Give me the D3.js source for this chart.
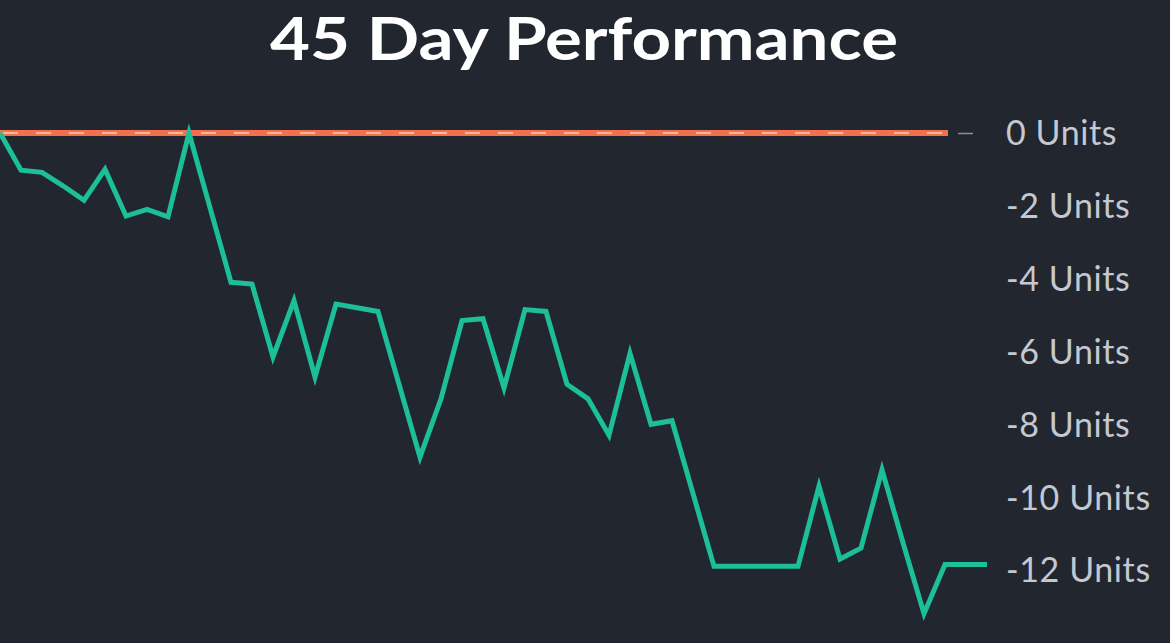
<!DOCTYPE html>
<html>
<head>
<meta charset="utf-8">
<script src="https://cdn.jsdelivr.net/npm/d3@7"></script>
<style>
  html, body { margin: 0; padding: 0; background: #22262f; }
  svg { display: block; }
</style>
</head>
<body>
<svg id="chart" width="1170" height="643"></svg>
<script>
const title = "45 Day Performance";
const days = d3.range(0, 48);
const units = [
  0, -1.02, -1.08, -1.45, -1.85, -1.0, -2.28, -2.1, -2.3, 0,
  -2.05, -4.1, -4.15, -6.15, -4.6, -6.7, -4.7, -4.8, -4.9, -6.9,
  -8.9, -7.3, -5.15, -5.1, -7.0, -4.85, -4.9, -6.9, -7.3, -8.3,
  -6.05, -8.0, -7.9, -9.9, -11.9, -11.9, -11.9, -11.9, -11.9, -9.7,
  -11.7, -11.4, -9.25, -11.25, -13.2, -11.85, -11.85, -11.85
];
const tickValues = [0, -2, -4, -6, -8, -10, -12];
const tickLabels = ["0 Units", "-2 Units", "-4 Units", "-6 Units", "-8 Units", "-10 Units", "-12 Units"];
const baseline = 0;

const svg = d3.select("#chart");

const x = d3.scaleLinear().domain([0, days.length - 1]).range([0, 987]);
const y = d3.scaleLinear().domain([0, -12]).range([133, 570]);

svg.append("text")
  .attr("x", 584).attr("y", 60)
  .attr("text-anchor", "middle")
  .attr("fill", "#ffffff")
  .attr("font-family", "Lato, 'Open Sans', sans-serif")
  .attr("font-weight", 700)
  .attr("font-size", 60)
  .attr("textLength", 628)
  .attr("lengthAdjust", "spacingAndGlyphs")
  .text(title);

// Axis on right
const axis = d3.axisRight(y)
  .tickValues(tickValues)
  .tickSize(15)
  .tickPadding(33)
  .tickFormat((d, i) => tickLabels[i]);
const gAxis = svg.append("g").attr("transform", "translate(958,0)").call(axis);
gAxis.select(".domain").remove();
gAxis.selectAll(".tick line").attr("stroke", "#8a909b").attr("stroke-width", 1.5)
  .attr("opacity", (d) => d === 0 ? 1 : 0);
gAxis.selectAll(".tick text")
  .attr("fill", "#c3c8d1")
  .attr("font-family", "Lato, 'Open Sans', sans-serif")
  .attr("font-size", 34)
  .attr("letter-spacing", 0.6)
  .attr("dy", "0.35em");

// Baseline (zero) line
svg.append("line")
  .attr("x1", 0).attr("x2", 948)
  .attr("y1", y(baseline)).attr("y2", y(baseline))
  .attr("stroke", "#f2704e").attr("stroke-width", 6);
svg.append("line")
  .attr("x1", 0).attr("x2", 948)
  .attr("y1", y(baseline)).attr("y2", y(baseline))
  .attr("stroke", "#f7b8a0").attr("stroke-width", 2)
  .attr("stroke-dasharray", "15 18")
  .attr("stroke-dashoffset", -3);

// Performance line
const line = d3.line().x((d, i) => x(days[i])).y(d => y(d));
svg.append("path")
  .datum(units)
  .attr("d", line)
  .attr("fill", "none")
  .attr("stroke", "#1cbf97")
  .attr("stroke-width", 5)
  .attr("stroke-linejoin", "miter");
</script>
</body>
</html>
